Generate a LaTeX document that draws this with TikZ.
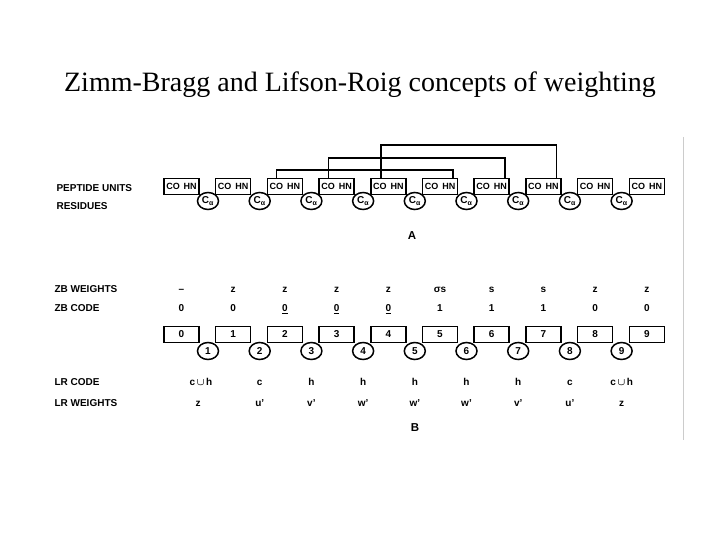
\documentclass[tikz,border=0pt]{standalone}
\usepackage{amsmath}
\usepackage{fontspec}
\setmainfont{Liberation Sans}
\newfontfamily\titlefont{Liberation Serif}
\usetikzlibrary{shapes.geometric}
\begin{document}
\begin{tikzpicture}[x=1pt,y=-1pt,
  unit/.style={draw, line width=1.5pt, minimum width=35pt, minimum height=16pt, inner sep=0pt, text height=1.5ex, text depth=0.2ex, font=\bfseries\fontsize{9}{9}\selectfont},
  res/.style={draw, ellipse, line width=1.5pt, minimum width=21pt, minimum height=17pt, inner sep=0pt, fill=white, font=\bfseries\fontsize{10}{10}\selectfont},
  rowlabel/.style={anchor=west, font=\bfseries\fontsize{10}{12}\selectfont},
  val/.style={text height=1.5ex, text depth=0.25ex, font=\bfseries\fontsize{10}{11}\selectfont},
  hb/.style={line width=1.6pt},
  panel/.style={font=\bfseries\fontsize{11.5}{13}\selectfont}
]
\useasboundingbox (0,0) rectangle (720,540);
\node[font=\titlefont\fontsize{28}{32}\selectfont] (title) at (360,85) {Zimm-Bragg and Lifson-Roig concepts of weighting};

% frame line of the scan
\draw[gray!40, line width=0.8pt] (683,137) -- (683,440);

% row labels
\node[rowlabel] (lpu) at (53,188) {PEPTIDE UNITS};
\node[rowlabel] (lres) at (53,206) {RESIDUES};
\node[rowlabel] (lzbw) at (51,289) {ZB WEIGHTS};
\node[rowlabel] (lzbc) at (51,308) {ZB CODE};
\node[rowlabel] (llrc) at (51,382) {LR CODE};
\node[rowlabel] (llrw) at (51,403) {LR WEIGHTS};

% peptide units and residues
\foreach \i in {0,...,9} {
  \node[unit] (p\i) at ({181.5+51.7*\i},186.5) {CO\hspace{4pt}HN};
  \node[unit, font=\bfseries\fontsize{10}{10}\selectfont] (b\i) at ({181.5+51.7*\i},334.5) {\i};
}
\foreach \i in {1,...,9} {
  \node[res] (c\i) at ({181.5+51.7*(\i-1)+26.5},201) {C\textsubscript{α}};
  \node[res] (r\i) at ({181.5+51.7*(\i-1)+26.5},351) {\i};
}

% hydrogen bonds
\draw[hb] ([xshift=10pt]p2.north west) -- ++(0,-8) -| ([xshift=-5pt]p5.north east);
\draw[hb] ([xshift=10pt]p3.north west) -- ++(0,-20) -| ([xshift=-5pt]p6.north east);
\draw[hb] ([xshift=11pt]p4.north west) -- ++(0,-33) -| ([xshift=-5pt]p7.north east);

\node[panel] (labA) at (412,236) {A};

% ZB rows
\foreach \w [count=\i from 0] in {--, z, z, z, z, σs, s, s, z, z} {
  \node[val] (zw\i) at ({181.5+51.7*\i},289) {\w};
}
\foreach \w [count=\i from 0] in {0, 0, \underline{0}, \underline{0}, \underline{0}, 1, 1, 1, 0, 0} {
  \node[val] (zc\i) at ({181.5+51.7*\i},308) {\w};
}

% LR rows
\foreach \w/\dx [count=\i from 1] in {c\,$\boldsymbol{\cup}$\,h/-7, c/0, h/0, h/0, h/0, h/0, h/0, c/0, c\,$\boldsymbol{\cup}$\,h/0} {
  \node[val] (lc\i) at ({181.5+51.7*(\i-1)+26.5+\dx},382) {\w};
}
\foreach \w/\dx [count=\i from 1] in {z/-10, u'/0, v'/0, w'/0, w'/0, w'/0, v'/0, u'/0, z/0} {
  \node[val] (lw\i) at ({181.5+51.7*(\i-1)+26.5+\dx},403) {\w};
}

\node[panel] (labB) at (415,428) {B};
\end{tikzpicture}
\end{document}
